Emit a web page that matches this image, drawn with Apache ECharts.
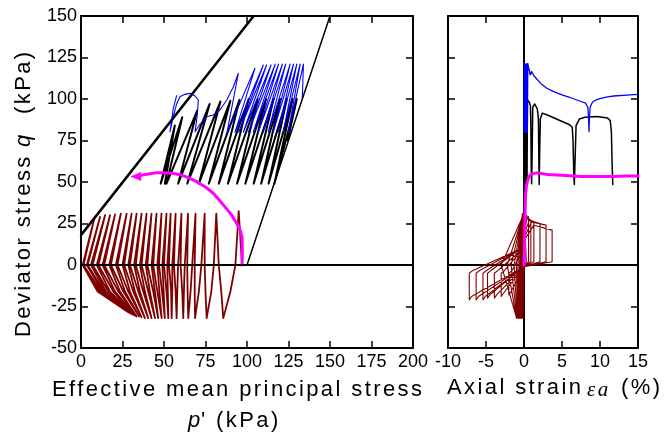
<!DOCTYPE html>
<html>
<head>
<meta charset="utf-8">
<script src="https://cdn.jsdelivr.net/npm/echarts@6/dist/echarts.min.js"></script>
<style>
  html, body { margin: 0; padding: 0; background: #fff; }
  #chart { width: 665px; height: 438px; }
</style>
</head>
<body>
<div id="chart"></div>
<script>
// ---------------- effective stress path (p', q) ----------------
// critical state line and total stress path
const cslP = [0, 104];
const cslQ = [18, 150];
const tspP = [100, 150];
const tspQ = [0, 150];
const zeroLineP = [0, 200];

// two-way cyclic loading (no static shear), one entry per cycle
const redUpZeroP   = [97, 83, 74.5, 68.5, 64, 60, 56, 53, 50, 47, 43.5, 40, 36.5, 33, 29.5, 26, 22, 18, 14, 10.5, 7, 4, 1.5];
const redTopP      = [95, 81.5, 74.5, 69, 64.5, 60.5, 57, 54, 51.5, 48.5, 45.5, 42.5, 39.5, 36.5, 33.5, 30.5, 27.5, 24, 20.5, 17.5, 14.5, 11.5, 8];
const redTopQ      = [32.5, 31, 31, 31, 31, 31, 31, 31, 31, 31, 31, 31, 31, 31, 31, 31, 31, 31, 30.5, 30, 30, 29, 28];
const redDownZeroP = [93, 80, 72.5, 67, 62.5, 58.5, 55, 52, 49, 46, 42.5, 39, 35.5, 32, 28.5, 25, 21, 17, 13, 9.5, 6, 3.5, 1];
const redDownMidP  = [90, 78.5, 71, 66, 62, 58, 55, 52.3, 49.8, 47.2, 44.5, 41.5, 38.5, 35.5, 32.5, 29.5, 26.5, 23.5, 20.5, 17.5, 15, 13, 11];
const redBotP      = [85.7, 75.7, 68.7, 64.6, 61.6, 57.6, 54.6, 52.6, 50.5, 48.6, 46.5, 44.6, 42.5, 40.5, 38.5, 36.5, 35, 33.5, 32.5, 31.5, 30.5, 29.5, 28.5];
const redBotQ      = [-32, -32, -32, -32, -32, -32, -32, -32, -32, -32, -32, -32, -32, -32, -32, -31.5, -31, -31, -30.5, -30, -29.5, -29, -28.5];
const redRetMidP   = [84.5, 75, 68.5, 64.2, 61, 57, 54.3, 51.5, 48.8, 46, 43.5, 40.5, 37.5, 34.5, 31.5, 28.5, 25.5, 22.5, 19.5, 16.5, 14, 12, 10];
const redMidQ = -16;
const redEndP = 1;

// cyclic loading with medium static shear
const blackStart = [124.5, 75];
const blackTopP = [130, 127.5, 124, 120, 116, 111.5, 106.5, 101, 95.5, 90, 84, 77.5, 70, 61, 56.5];
const blackTopQ = [100, 100, 100, 100, 100, 100, 100, 100, 99.5, 99, 98.5, 97, 93, 89, 84];
const blackBotP = [116.5, 113, 108.5, 104, 99, 94, 88.5, 83, 77, 71, 64, 58.5, 51.5, 48, 50.5];
const blackBotQ = [49, 49, 49, 49, 49, 49, 49, 49, 49, 49, 49, 49, 49, 49, 49];

// cyclic loading with high static shear
const blueStart = [133.3, 100];
const blueTopP = [134, 132, 130, 128, 126, 123.3, 121.3, 119, 117, 114.5, 111.8, 109.8, 104.8, 94.8];
const blueTopQ = [121, 121, 121, 121, 121, 121, 121, 121, 121, 120.5, 120.5, 120.5, 118.5, 115.5];
const blueBotP = [124.9, 121.8, 118.8, 115.8, 112.8, 109.8, 106.8, 103.8, 100.8, 97.8, 95, 92.8, 87.8];
const blueBotQ = [80, 80, 80, 80, 80, 80, 80, 80, 80, 80, 80, 80, 79];
const blueTailP = [91.8, 87.8, 83.7, 79.7, 75.7, 71.5, 68.7, 70, 70.7, 68.5, 65.7, 62.5, 59.6, 57.6, 55.5, 53.6, 55.6, 57.6];
const blueTailQ = [107.4, 99.4, 93.4, 90.4, 89.3, 84.5, 80.3, 90, 99.4, 102, 103.4, 102.8, 101.4, 97, 89, 80.3, 94.4, 102];

// monotonic undrained compression
const magP = [97, 97.2, 97, 95.5, 93.8, 90.5, 86.7, 83, 79.7, 75, 69.7, 65, 60.6, 55, 49.6, 45, 41.6, 37.5, 34.5, 33];
const magQ = [0, 8, 17, 22, 25, 30.5, 35, 39.5, 43.2, 47, 50.2, 52.5, 54.2, 55.3, 55.6, 55.5, 55, 54.3, 53.6, 53.3];

// ---------------- stress-strain (axial strain, q) ----------------
const zeroLineEps = [-10, 15];
const axisLineQ = [-50, 150];

const redEpsTop = [0.05, 0.03, 0.0, -0.02, -0.05, -0.08, -0.1, -0.12, -0.15, -0.18, -0.2, -0.2, -0.15, -0.1, -0.05, 0.0];
const redEpsZd  = [0.0, -0.05, -0.1, -0.15, -0.2, -0.25, -0.3, -0.4, -0.5, -0.6, -0.8, -1.0, -1.3, -1.7, -2.2, -3.0];
const redEpsBot = [-0.1, -0.2, -0.28, -0.35, -0.42, -0.5, -0.56, -0.62, -0.68, -0.74, -0.8, -0.85, -0.9, -0.95, -1.0, -1.0];
const redEpsZu  = [0.0, -0.05, -0.1, -0.15, -0.2, -0.25, -0.3, -0.35, -0.4, -0.45, -0.5, -0.6, -0.6, -0.5, -0.3, -0.1];
const redStrainTailEps = [-0.1, 0.05, 0.3, 0.3, 0, -1.7, -2.0, -2.0, -1.6, -0.4,
  0.15, 0.6, 0.6, 0, -2.7, -3.0, -3.0, -2.6, -0.5,
  0.25, 0.9, 0.9, 0, -3.6, -3.9, -3.9, -3.5, -0.6,
  0.4, 1.3, 1.3, 0, -4.5, -4.8, -4.8, -4.4, -0.7,
  0.7, 2.1, 2.1, 0, -5.1, -5.4, -5.4, -5.0, -0.7,
  1.0, 2.9, 2.9, 0, -6.0, -6.3, -6.3, -5.9, -0.8,
  1.3, 3.7, 3.7, 0, -6.9, -7.2, -7.2, -6.8, -0.8];
const redStrainTailQ = [1, 31, 30, 2, -1, -16, -18, -5, -3.5, 7,
  30, 29, 2, -1, -17, -19, -5, -3.5, 8,
  29, 27, 2, -1, -18, -20, -5, -3.5, 8,
  28, 26, 2, -1, -18, -20, -5, -3.5, 9,
  27, 25, 2, -1, -19, -21, -5, -3.5, 9,
  26, 24, 2, -1, -19, -21, -5, -3.5, 9,
  24, 21, 2, -1, -19, -21, -5, -3.5, 9];

const blackEpsTop = [0.06, 0.1, 0.14, 0.18, 0.22, 0.26, 0.3, 0.34, 0.38, 0.42, 0.45];
const blackEpsBot = [0.0, 0.04, 0.08, 0.12, 0.16, 0.2, 0.24, 0.28, 0.32, 0.36, 0.4];
const blackStrainTailEps = [0.45, 0.55, 0.7, 0.85, 0.9, 0.95, 1.0, 1.05, 1.15, 1.4, 1.75, 1.9, 1.95, 2.0, 2.05, 2.15, 2.4, 3.0, 4.5, 6.0,
  6.35, 6.45, 6.55, 6.62, 6.7, 6.85, 7.3, 8.0, 9.6, 11.0, 11.35, 11.5, 11.6, 11.68];
const blackStrainTailQ = [99.5, 99.5, 98, 96, 85, 60, 49, 60, 95, 97, 94, 88, 65, 48.5, 65, 88, 91.5, 90.5, 87.5, 84.5,
  83, 75, 55, 48.5, 60, 84, 88, 89, 89.5, 88.5, 87, 80, 60, 48.5];

const blueEpsTop = [0.06, 0.1, 0.14, 0.18, 0.22, 0.26, 0.3, 0.34, 0.38, 0.42, 0.46, 0.5];
const blueEpsBot = [0.0, 0.04, 0.08, 0.12, 0.16, 0.2, 0.24, 0.28, 0.32, 0.36, 0.4, 0.44];
const blueStrainTailEps = [0.5, 0.6, 0.7, 0.8, 0.9, 1.0, 1.3, 2.2, 3.0, 3.9, 5.0, 5.9, 6.6, 7.5, 8.1, 8.4, 8.5, 8.55, 8.6, 8.7,
  9.0, 9.5, 10.1, 11.0, 11.8, 13.5, 15.0];
const blueStrainTailQ = [121.5, 119, 117.5, 114.5, 115.5, 116.5, 114, 109.4, 106.5, 104.4, 102.5, 101.2, 100, 98.5, 97.5, 95, 88, 80.3, 88, 95,
  98, 99.5, 100.4, 101.3, 101.8, 102.3, 102.8];

const magEps  = [0, 0.05, 0.1, 0.15, 0.2, 0.3, 0.45, 0.7, 1.1, 1.7, 3.1, 5.0, 7.5, 10.0, 11.8, 13.5, 15.0];
const magEpsQ = [0, 5, 20, 33, 41, 47, 50.5, 53.5, 55, 55.5, 54.5, 54, 53.3, 53.3, 53.3, 53.6, 53.6];

// ---------------- build paths ----------------
const zip = (xs, ys) => xs.map((x, i) => [x, ys[i]]);

const redPQ = [];
for (let i = 0; i < redTopP.length; i++) {
  redPQ.push([redUpZeroP[i], 0], [redTopP[i], redTopQ[i]], [redDownZeroP[i], 0],
             [redDownMidP[i], redMidQ], [redBotP[i], redBotQ[i]], [redRetMidP[i], redMidQ]);
}
redPQ.push([redEndP, 0]);

const blackPQ = [blackStart];
blackTopP.forEach((p, i) => { blackPQ.push([p, blackTopQ[i]], [blackBotP[i], blackBotQ[i]]); });

const bluePQ = [blueStart];
blueTopP.forEach((p, i) => {
  bluePQ.push([p, blueTopQ[i]]);
  if (i < blueBotP.length) bluePQ.push([blueBotP[i], blueBotQ[i]]);
});
zip(blueTailP, blueTailQ).forEach(pt => bluePQ.push(pt));

const magPQ = zip(magP, magQ).map((pt, i, arr) => i === arr.length - 1
  ? { value: pt, symbol: 'triangle', symbolSize: [9, 11], symbolRotate: 90, itemStyle: { color: '#ff00ff' } }
  : pt);

const redEQ = [[0, 0]];
redEpsTop.forEach((e, i) => {
  redEQ.push([e, redTopQ[i]], [redEpsZd[i], 0], [redEpsBot[i], redBotQ[i]], [redEpsZu[i], 0]);
});
zip(redStrainTailEps, redStrainTailQ).forEach(pt => redEQ.push(pt));

const blackEQ = [[0, blackStart[1]]];
blackEpsTop.forEach((e, i) => { blackEQ.push([e, blackTopQ[i]], [blackEpsBot[i], blackBotQ[i]]); });
zip(blackStrainTailEps, blackStrainTailQ).forEach(pt => blackEQ.push(pt));

const blueEQ = [[0, blueStart[1]]];
blueEpsTop.forEach((e, i) => { blueEQ.push([e, blueTopQ[i]], [blueEpsBot[i], blueBotQ[i]]); });
zip(blueStrainTailEps, blueStrainTailQ).forEach(pt => blueEQ.push(pt));

const magEQ = zip(magEps, magEpsQ);

// ---------------- titles get a little tracking ----------------
const nativeFillText = CanvasRenderingContext2D.prototype.fillText;
CanvasRenderingContext2D.prototype.fillText = function (text, x, y, maxWidth) {
  const m = /(\d+(?:\.\d+)?)px/.exec(this.font);
  const tracked = m && parseFloat(m[1]) >= 20 && 'letterSpacing' in this;
  const saved = tracked ? this.letterSpacing : null;
  if (tracked) this.letterSpacing = '2.4px';
  if (maxWidth === undefined) nativeFillText.call(this, text, x, y);
  else nativeFillText.call(this, text, x, y, maxWidth);
  if (tracked) this.letterSpacing = saved;
};

// ---------------- chart ----------------
const FONT = '"Liberation Sans", Arial, sans-serif';

function valueAxis(gridIndex, position, min, max, interval, showLabels) {
  const horizontal = position === 'bottom' || position === 'top';
  return {
    type: 'value', gridIndex, position, min, max, interval,
    axisLine: { show: true, onZero: false, lineStyle: { color: '#000', width: 2 } },
    axisTick: { show: true, inside: true, length: 7, lineStyle: { color: '#000', width: 1.5 } },
    axisLabel: { show: showLabels, color: '#000', fontSize: 18, fontFamily: FONT, margin: horizontal ? 5 : 4 },
    splitLine: { show: false }
  };
}

function path(data, xi, yi, color, width, z) {
  return {
    type: 'line', xAxisIndex: xi, yAxisIndex: yi, data, z,
    symbol: 'none', showSymbol: false, silent: true, clip: true,
    lineStyle: { color, width, join: 'round', cap: 'round' }
  };
}

function label(text, x, y, font, rotation) {
  return {
    type: 'text', x, y, rotation: rotation || 0, z: 10,
    style: { text, font, fill: '#000', textAlign: 'left', textVerticalAlign: 'middle' }
  };
}

const chart = echarts.init(document.getElementById('chart'), null, { renderer: 'canvas' });
chart.setOption({
  animation: false,
  backgroundColor: '#fff',
  grid: [
    { left: 81, right: 252, top: 16, bottom: 90, containLabel: false, outerBoundsMode: 'none' },
    { left: 448, right: 27, top: 16, bottom: 90, containLabel: false, outerBoundsMode: 'none' }
  ],
  xAxis: [
    valueAxis(0, 'bottom', 0, 200, 25, true),
    valueAxis(0, 'top', 0, 200, 25, false),
    valueAxis(1, 'bottom', -10, 15, 5, true),
    valueAxis(1, 'top', -10, 15, 5, false)
  ],
  yAxis: [
    valueAxis(0, 'left', -50, 150, 25, true),
    valueAxis(0, 'right', -50, 150, 25, false),
    valueAxis(1, 'left', -50, 150, 25, false),
    valueAxis(1, 'right', -50, 150, 25, false)
  ],
  series: [
    // p'-q panel
    path(redPQ, 0, 0, '#7f0000', 1.8, 2),
    path(blackPQ, 0, 0, '#000', 2, 3),
    path(bluePQ, 0, 0, '#0000ff', 1.1, 4),
    Object.assign(path(magPQ, 0, 0, '#ff00ff', 3, 5), { showSymbol: true, symbol: 'none' }),
    path(zip(cslP, cslQ), 0, 0, '#000', 2.5, 6),
    path(zip(tspP, tspQ), 0, 0, '#000', 1.5, 6),
    path(zeroLineP.map(p => [p, 0]), 0, 0, '#000', 2, 6),
    // strain-q panel
    path(zeroLineEps.map(e => [e, 0]), 2, 2, '#000', 2, 1),
    path(axisLineQ.map(q => [0, q]), 2, 2, '#000', 2, 1),
    path(redEQ, 2, 2, '#7f0000', 1.1, 2),
    path(blackEQ, 2, 2, '#000', 1.5, 3),
    path(blueEQ, 2, 2, '#0000ff', 1.3, 4),
    path(magEQ, 2, 2, '#ff00ff', 3, 5)
  ],
  graphic: [
    label('Effective mean principal stress', 52, 390, '22px ' + FONT),
    label('p', 188, 421, 'italic 22px ' + FONT),
    label("' (kPa)", 201, 421, '22px ' + FONT),
    label('Axial strain', 447, 388, '22px ' + FONT),
    label('εa', 587, 390, 'italic 21px "Liberation Serif", serif'),
    label('(%)', 621, 388, '22px ' + FONT),
    label('Deviator stress', 24, 337, '22px ' + FONT, Math.PI / 2),
    label('q', 24, 147, 'italic 22px ' + FONT, Math.PI / 2),
    label('(kPa)', 24, 114, '22px ' + FONT, Math.PI / 2)
  ]
});
</script>
</body>
</html>
